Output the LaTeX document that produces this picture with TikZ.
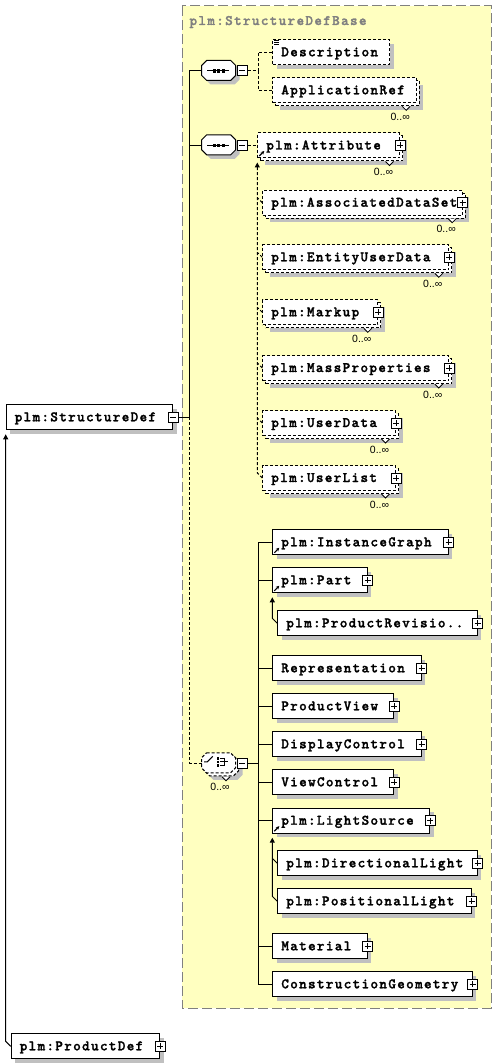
\documentclass[tikz,border=0pt]{standalone}
\usepackage{fontspec}
\usetikzlibrary{shadows,arrows.meta,calc}
\newfontfamily\elfont{lmmonolt10-bold.otf}[LetterSpace=9,FakeBold=1.6]
\newfontfamily\mfont{Liberation Sans}
\definecolor{bgyellow}{RGB}{255,255,192}
\definecolor{shgray}{RGB}{192,192,192}
\definecolor{framegray}{RGB}{128,128,128}
\newcommand\multmark[2]{%
  \draw[fill=white,line width=0.8pt] ([xshift=-14.5pt,yshift=-3pt]#1.south east) -- ++(4,4) -- ++(4,-4);
  \node[mult] (#2) at ([xshift=-16.5pt,yshift=-13.5pt]#1.south east) {0..∞};}
\newcommand\refmark[1]{%
  \draw[line width=1.2pt,-{Stealth[length=3.5pt,width=3.5pt]}] ([xshift=2pt,yshift=2.5pt]#1.south west) -- ++(5,-5);}
\newcommand\octa[3]{%
  \path[#3] ([shift={(#2)}]#1.north west) ++(5,0) -- ++(24,0) -- ++(5,5) -- ++(0,10)
    -- ++(-5,5) -- ++(-24,0) -- ++(-5,-5) -- ++(0,-10) -- cycle;}
\newcommand\seqicon[1]{%
  \draw ($(#1.center)+(-12,0)$) -- ($(#1.center)+(10,0)$);
  \foreach \dx in {-5,-0.5,4}{\fill ($(#1.center)+(\dx-1.6,-1.6)$) rectangle ++(3.2,3.2);}}
\newcommand\choiceicon[1]{%
  \draw ($(#1.center)+(-15,-1.5)$) -- ++(3.3,0) -- ++(5.5,-5.5);
  \foreach \dy in {-5,-1.5,2}{\fill ($(#1.center)+(-2.2,\dy-1.3)$) rectangle ++(2.6,2.6);}
  \draw ($(#1.center)+(1,-5)$) -- ++(4.5,0) -- ++(0,7) -- ++(-4.5,0)
        ($(#1.center)+(1,-1.5)$) -- ++(7.5,0);}
\begin{document}
\begin{tikzpicture}[x=1pt,y=-1pt,line width=1pt,
  dsh/.style={dash pattern=on 3pt off 2pt},
  tfont/.style={font=\elfont\fontsize{14.5pt}{16pt}\selectfont},
  elbase/.style={draw,fill=white,rectangle,anchor=north west,minimum height=25pt,
    inner xsep=8.5pt,inner ysep=0pt,text height=9pt,text depth=1pt,align=left,tfont},
  sh/.style={general shadow={shadow xshift=4pt,shadow yshift=-4pt,fill=shgray,draw=none}},
  el/.style={elbase,sh},
  elo/.style={elbase,sh,dsh},
  mshadow/.style={general shadow={shadow xshift=7pt,shadow yshift=-7pt,fill=shgray,draw=none},
    general shadow={shadow xshift=3pt,shadow yshift=-3pt,fill=white,draw=black,dsh}},
  elm/.style={elbase,dsh,mshadow},
  btn/.style={draw,fill=white,rectangle,minimum size=10pt,inner sep=0pt,solid},
  btnm/.style={btn,path picture={\draw ([xshift=2pt]path picture bounding box.west) -- ([xshift=-2pt]path picture bounding box.east);}},
  btnp/.style={btn,path picture={\draw ([xshift=2pt]path picture bounding box.west) -- ([xshift=-2pt]path picture bounding box.east) ([yshift=-2pt]path picture bounding box.north) -- ([yshift=2pt]path picture bounding box.south);}},
  comp/.style={rectangle,minimum width=34pt,minimum height=20pt,inner sep=0pt},
  mult/.style={font=\mfont\fontsize{10.5pt}{12pt}\selectfont,inner sep=0pt},
  tip/.style={-{Triangle[length=5pt,width=5pt]}}
]
\useasboundingbox (0,0) rectangle (497,1064);
% frame of the base type
\draw[fill=bgyellow,draw=framegray,dash pattern=on 10pt off 4pt] (182,6) rectangle (491,1008);
\node[anchor=base west,inner sep=0pt,text=framegray,tfont] (title) at (189,25) {plm:StructureDefBase};

% main elements
\node[el,text width=149.3pt] (sd) at (5.7,404.3) {plm:StructureDef};
\node[btnm] (sdb) at (sd.east) {};
\node[el,text width=131.3pt] (pd) at (10.7,1033.3) {plm:ProductDef};
\node[btnp] (pdb) at (pd.east) {};

% compositors
\node[comp] (s1) at (219.2,71) {};
\octa{s1}{4,4}{fill=shgray}
\octa{s1}{0,0}{draw,fill=white}
\seqicon{s1}
\node[btnm] (s1b) at ([xshift=5.7pt]s1.east) {};
\node[comp] (s2) at (219.2,145.3) {};
\octa{s2}{4,4}{fill=shgray}
\octa{s2}{0,0}{draw,fill=white}
\seqicon{s2}
\node[btnm] (s2b) at ([xshift=5.7pt]s2.east) {};
\node[comp] (ch) at (219,763.3) {};
\octa{ch}{7,7}{fill=shgray}
\octa{ch}{3,3}{draw,fill=white,dsh}
\octa{ch}{0,0}{draw,fill=white,dsh}
\choiceicon{ch}
\node[btnm] (chb) at ([xshift=5.7pt]ch.east) {};
\multmark{ch}{chm}

% first sequence
\node[elo,text width=99.7pt] (desc) at (272.3,39.3) {Description};
\draw[line width=0.8pt] ([xshift=1.5pt,yshift=-1pt]desc.north west) -- ++(5,0)
  ([xshift=1.5pt,yshift=-3pt]desc.north west) -- ++(5,0)
  ([xshift=1.5pt,yshift=-5pt]desc.north west) -- ++(5,0);
\node[elm,text width=126.4pt] (appref) at (272.3,77.3) {ApplicationRef};
\multmark{appref}{apprefm}

% second sequence
\node[elm,text width=124.7pt] (attr) at (257.3,132.5) {plm:Attribute};
\node[btnp] (attrb) at (attr.east) {};
\multmark{attr}{attrm}
\refmark{attr}
\node[elm,text width=182.4pt] (ads) at (262.3,189.7) {plm:AssociatedDataSet};
\node[btnp] (adsb) at (ads.east) {};
\multmark{ads}{adsm}
\node[elm,text width=169pt] (eud) at (262.3,244.3) {plm:EntityUserData};
\node[btnp] (eudb) at (eud.east) {};
\multmark{eud}{eudm}
\node[elm,text width=98pt] (mk) at (262.3,299.3) {plm:Markup};
\node[btnp] (mkb) at (mk.east) {};
\multmark{mk}{mkm}
\node[elm,text width=169pt] (mp) at (262.3,355) {plm:MassProperties};
\node[btnp] (mpb) at (mp.east) {};
\multmark{mp}{mpm}
\node[elm,text width=115.7pt] (ud) at (262.3,410) {plm:UserData};
\node[btnp] (udb) at (ud.east) {};
\multmark{ud}{udm}
\node[elm,text width=115.7pt] (ul) at (262.3,465) {plm:UserList};
\node[btnp] (ulb) at (ul.east) {};
\multmark{ul}{ulm}

% choice children
\node[el,text width=158.4pt] (ig) at (272.3,529.3) {plm:InstanceGraph};
\node[btnp] (igb) at (ig.east) {};
\refmark{ig}
\node[el,text width=77.4pt] (part) at (272.3,567.3) {plm:Part};
\node[btnp] (partb) at (part.east) {};
\refmark{part}
\node[el,text width=182.4pt] (pr) at (277.3,610.3) {plm:ProductRevisio..};
\node[btnp] (prb) at (pr.east) {};
\node[el,text width=131.4pt] (rep) at (272.3,655.3) {Representation};
\node[btnp] (repb) at (rep.east) {};
\node[el,text width=104pt] (pv) at (272.3,693.3) {ProductView};
\node[btnp] (pvb) at (pv.east) {};
\node[el,text width=131.4pt] (dc) at (272.3,731.3) {DisplayControl};
\node[btnp] (dcb) at (dc.east) {};
\node[el,text width=104pt] (vc) at (272.3,769.3) {ViewControl};
\node[btnp] (vcb) at (vc.east) {};
\node[el,text width=140pt] (ls) at (272.3,807.7) {plm:LightSource};
\node[btnp] (lsb) at (ls.east) {};
\refmark{ls}
\node[el,text width=182.4pt] (dl) at (277.3,850.3) {plm:DirectionalLight};
\node[btnp] (dlb) at (dl.east) {};
\node[el,text width=176.4pt] (pl) at (277.3,888.3) {plm:PositionalLight};
\node[btnp] (plb) at (pl.east) {};
\node[el,text width=77.4pt] (mat) at (272.3,933.3) {Material};
\node[btnp] (matb) at (mat.east) {};
\node[el,text width=182.4pt] (cg) at (272.3,971.3) {ConstructionGeometry};
\node[btnp] (cgb) at (cg.east) {};

% connectors from StructureDef
\draw (sdb.east) -- ++(11,0) |- (s1.west);
\draw (sdb.east) ++(11,0) |- (s2.west);
\draw[dsh] (sdb.east) ++(11,0) |- (ch.west);
% first sequence
\draw[dsh] (s1b.east) -- ++(10.5,0) |- (desc.west);
\draw[dsh] (s1b.east) ++(10.5,0) |- (appref.west);
% second sequence
\draw[dsh] (s2b.east) -- (s2b.east -| attr.west);
\draw[dsh,tip] (ul.west) -- ++(-5,-5) -- ([yshift=-4pt]attr.south west);
\foreach \n in {ads,eud,mk,mp,ud}{\draw[dsh] (\n.west) -- ++(-5,-5);}
% choice
\draw (chb.east) -- ++(10.6,0);
\foreach \n in {ig,part,rep,pv,dc,vc,ls,mat,cg}{\draw (chb.east) ++(10.6,0) |- (\n.west);}
\draw[tip] (pr.west) -- ++(-5,-5) -- ([yshift=-4pt]part.south west);
\draw[tip] (pl.west) -- ++(-5,-5) -- ([yshift=-4pt]ls.south west);
\draw (dl.west) -- ++(-5,-5);
% ProductDef derived from StructureDef
\draw[tip] (pd.west) -- ++(-5,-5) -- ([yshift=-4pt]sd.south west);
\end{tikzpicture}
\end{document}
